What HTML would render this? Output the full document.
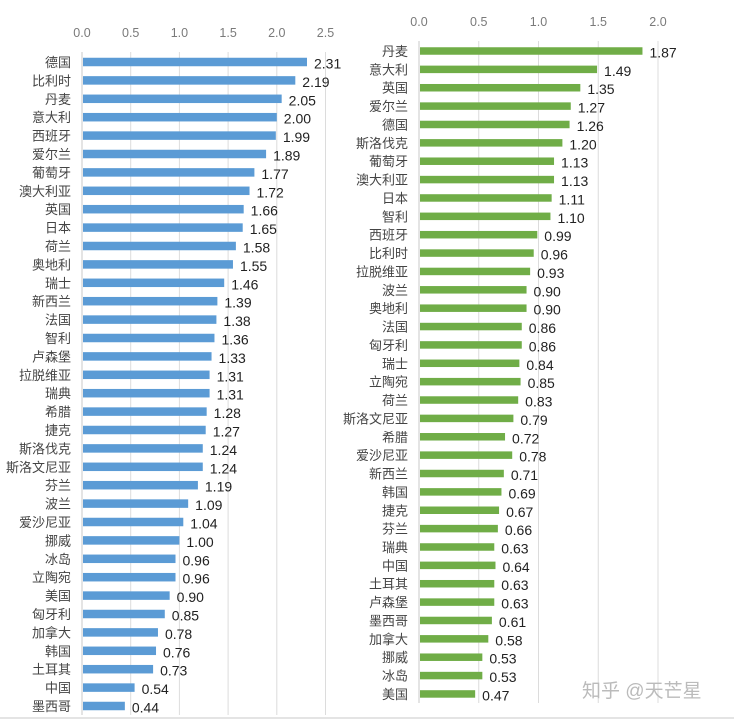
<!DOCTYPE html>
<html><head><meta charset="utf-8"><style>
body{margin:0;background:#fff;width:734px;height:722px;overflow:hidden}
svg{display:block}
text{font-family:"Liberation Sans","Noto Sans CJK SC",sans-serif}
</style></head><body>
<svg id="c" width="734" height="722"></svg>
<script>
const leftCats=["德国","比利时","丹麦","意大利","西班牙","爱尔兰","葡萄牙","澳大利亚","英国","日本","荷兰","奥地利","瑞士","新西兰","法国","智利","卢森堡","拉脱维亚","瑞典","希腊","捷克","斯洛伐克","斯洛文尼亚","芬兰","波兰","爱沙尼亚","挪威","冰岛","立陶宛","美国","匈牙利","加拿大","韩国","土耳其","中国","墨西哥"];
const leftVals=[2.31,2.19,2.05,2.00,1.99,1.89,1.77,1.72,1.66,1.65,1.58,1.55,1.46,1.39,1.38,1.36,1.33,1.31,1.31,1.28,1.27,1.24,1.24,1.19,1.09,1.04,1.00,0.96,0.96,0.90,0.85,0.78,0.76,0.73,0.54,0.44];
const leftTicks=[0,0.5,1.0,1.5,2.0,2.5];
const rightCats=["丹麦","意大利","英国","爱尔兰","德国","斯洛伐克","葡萄牙","澳大利亚","日本","智利","西班牙","比利时","拉脱维亚","波兰","奥地利","法国","匈牙利","瑞士","立陶宛","荷兰","斯洛文尼亚","希腊","爱沙尼亚","新西兰","韩国","捷克","芬兰","瑞典","中国","土耳其","卢森堡","墨西哥","加拿大","挪威","冰岛","美国"];
const rightVals=[1.87,1.49,1.35,1.27,1.26,1.20,1.13,1.13,1.11,1.10,0.99,0.96,0.93,0.90,0.90,0.86,0.86,0.84,0.85,0.83,0.79,0.72,0.78,0.71,0.69,0.67,0.66,0.63,0.64,0.63,0.63,0.61,0.58,0.53,0.53,0.47];
const rightTicks=[0,0.5,1.0,1.5,2.0];

const NS="http://www.w3.org/2000/svg";
const svg=document.getElementById('c');
function mk(tag,attrs,txt){const e=document.createElementNS(NS,tag);for(const k in attrs)e.setAttribute(k,attrs[k]);if(txt!==undefined)e.textContent=txt;svg.appendChild(e);return e;}

function drawChart(o){
  const x=v=>o.x0+v*o.scale;
  const y=i=>o.y0+i*o.step;
  o.ticks.forEach(t=>{
    const g=mk('line',{x1:x(t),x2:x(t),y1:o.gTop,y2:o.gBot,stroke:'#dcdcdc','stroke-width':1});
    
    
    const tl=mk('text',{x:x(t),y:o.tickY,'text-anchor':'middle','font-size':12.5,fill:'#7a7a7a'},t.toFixed(1));
    
    
  });
  const ax=mk('line',{x1:o.x0,x2:o.x0,y1:o.gTop,y2:o.gBot,stroke:'#c8c8c8','stroke-width':1});
  
  
  o.cats.forEach((c,i)=>{
    const yy=y(i);
    const lb=mk('text',{x:o.x0-11,y:yy+5,'text-anchor':'end','font-size':13,fill:'#444'},c);
    
    
    const b=mk('rect',{x:o.x0+1,y:yy-o.bh/2,width:Math.max(0,x(o.vals[i])-o.x0-1),height:o.bh,fill:o.color});
    
    
    const vl=mk('text',{x:x(o.vals[i])+7,y:yy+6.5,'font-size':14,fill:'#222'},o.vals[i].toFixed(2));
    
    
  });
}
drawChart({id:'left',cats:leftCats,vals:leftVals,ticks:leftTicks,x0:82,scale:97.4,y0:62,step:18.4,bh:8.5,gTop:52,gBot:715,tickY:37,color:'#5b9bd5'});
drawChart({id:'right',cats:rightCats,vals:rightVals,ticks:rightTicks,x0:419,scale:119.5,y0:51,step:18.37,bh:7.5,gTop:41,gBot:703,tickY:26,color:'#70ad47'});
const bl=mk('line',{x1:0,x2:734,y1:718,y2:718,stroke:'#c8c8c8','stroke-width':1});


const wm=mk('text',{x:582,y:697,'font-size':19,fill:'#bbb'},'知乎 @天芒星');


</script>
</body></html>
